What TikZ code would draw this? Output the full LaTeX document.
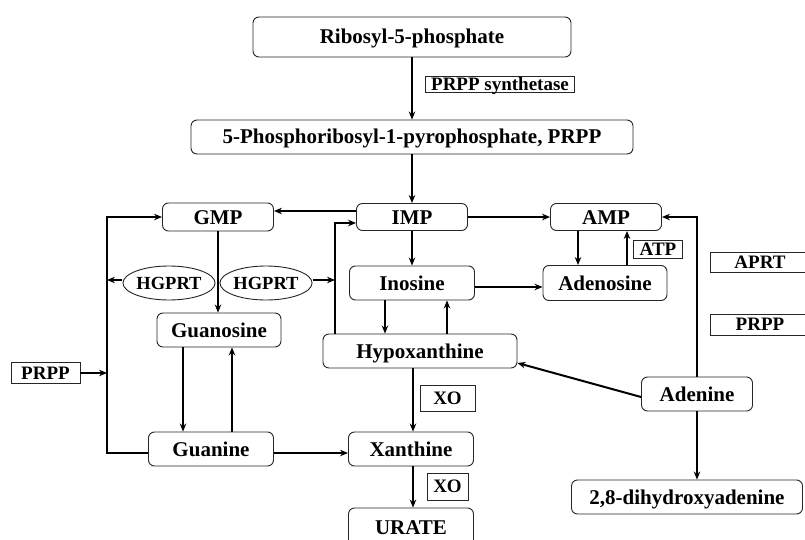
\documentclass[tikz,border=0pt]{standalone}
\usepackage{fontspec}
\setmainfont{Liberation Serif}
\usetikzlibrary{arrows.meta,shapes.geometric}
\begin{document}
\begin{tikzpicture}[x=1pt,y=-1pt,
  sz/.style 2 args={minimum width=#1pt,minimum height=#2pt},
  box/.style={draw=black!85,line width=0.9pt,rounded corners=6pt,inner sep=0pt,
    font=\fontsize{21}{24}\selectfont\bfseries,text height=14pt,text depth=0pt},
  lab/.style={draw=black!85,line width=0.9pt,inner sep=0pt,
    font=\fontsize{19}{22}\selectfont\bfseries,text height=12.6pt,text depth=0pt},
  ell/.style={ellipse,draw=black!85,line width=0.9pt,inner sep=0pt,
    font=\fontsize{18.5}{22}\selectfont\bfseries,text height=12pt,text depth=0pt},
  arr/.style={line width=2pt,-{Stealth[length=8pt,width=6.5pt]}},
  ln/.style={line width=2pt}]
\useasboundingbox[fill=white] (0,0) rectangle (805,540);

% main boxes
\node[box,sz={318}{40}] (rib) at (412,37) {Ribosyl-5-phosphate};
\node[box,sz={442}{34}] (prpp) at (412,137) {5-Phosphoribosyl-1-pyrophosphate, PRPP};
\node[box,sz={111}{28}] (gmp) at (218,217) {GMP};
\node[box,sz={111}{27}] (imp) at (412,217) {IMP};
\node[box,sz={111}{27}] (amp) at (606,217) {AMP};
\node[box,sz={125}{34}] (ino) at (412,283) {Inosine};
\node[box,sz={124}{35}] (ados) at (605,283) {Adenosine};
\node[box,sz={124}{34}] (guo) at (219,330) {Guanosine};
\node[box,sz={194}{34}] (hyp) at (420,351) {Hypoxanthine};
\node[box,sz={111}{34}] (ade) at (697,394) {Adenine};
\node[box,sz={125}{34}] (gua) at (211,449) {Guanine};
\node[box,sz={125}{34}] (xan) at (411,449) {Xanthine};
\node[box,sz={125}{38}] (ura) at (411,527) {URATE};
\node[box,sz={231}{34}] (dha) at (687,497) {2,8-dihydroxyadenine};

% enzyme / cofactor labels
\node[lab,sz={149}{16}] (syn) at (500,84) {PRPP synthetase};
\node[lab,sz={49}{18}] (atp) at (658,249) {ATP};
\node[lab,sz={100}{20}] (aprt) at (760,262) {APRT};
\node[lab,sz={100}{21}] (prppr) at (760,324.5) {PRPP};
\node[lab,sz={69}{21}] (prppl) at (45.5,373) {PRPP};
\node[lab,sz={55}{26}] (xo1) at (447.5,398) {XO};
\node[lab,sz={41}{27}] (xo2) at (447.5,486.5) {XO};
\node[ell,sz={68}{34}] (hg1) at (169,283) {HGPRT};
\node[ell,sz={70}{34}] (hg2) at (266,283) {HGPRT};

% helper coordinates
\coordinate (L1) at (107,453);
\coordinate (L2) at (107,217);
\coordinate (L3) at (107,373);
\coordinate (L4) at (107,280);
\coordinate (R1) at (335,223);
\coordinate (R2) at (335,280);
\coordinate (A1) at (697,217);
\coordinate (cx) at (413,0);
\coordinate (gd) at (183,0);
\coordinate (gu) at (232,0);
\coordinate (id) at (385,0);
\coordinate (iu) at (447,0);
\coordinate (ad) at (578,0);
\coordinate (au) at (627,0);

% connectors
\draw[arr] (rib.south) -- (prpp.north);
\draw[arr] (prpp.south) -- (imp.north);
\draw[arr] ([yshift=6pt]imp.west) -- ([yshift=6pt]gmp.east);
\draw[arr] (gua.west |- L1) -- (L1) -- (L2) -- (gmp.west);
\draw[arr] (prppl.east) -- (L3);
\draw[arr] ([yshift=3pt]hg1.west) -- (L4);
\draw[arr] ([yshift=3pt]hg2.east) -- (R2);
\draw[arr] (hyp.north -| R1) -- (R1) -- (imp.west |- R1);
\draw[arr] (gmp.south) -- (gmp.south |- guo.north);
\draw[arr] (imp.south) -- (imp.south |- ino.north);
\draw[arr] (imp.east) -- (amp.west);
\draw[arr] ([yshift=-4pt]ino.east) -- ([yshift=-4pt]ino.east -| ados.west);
\draw[arr] (ino.south -| id) -- (hyp.north -| id);
\draw[arr] (hyp.north -| iu) -- (ino.south -| iu);
\draw[arr] (amp.south -| ad) -- (ados.north -| ad);
\draw[arr] (ados.north -| au) -- (amp.south -| au);
\draw[arr] (ade.north) -- (ade.north |- A1) -- (amp.east);
\draw[arr] ([yshift=-3pt]ade.west) -- ([yshift=-12pt]hyp.east);
\draw[arr] (ade.south) -- (ade.south |- dha.north);
\draw[arr] (hyp.south -| cx) -- (xan.north -| cx);
\draw[arr] (xan.south -| cx) -- (ura.north -| cx);
\draw[arr] (guo.south -| gd) -- (gua.north -| gd);
\draw[arr] (gua.north -| gu) -- (guo.south -| gu);
\draw[arr] (gua.east |- L1) -- (xan.west |- L1);
\end{tikzpicture}
\end{document}
